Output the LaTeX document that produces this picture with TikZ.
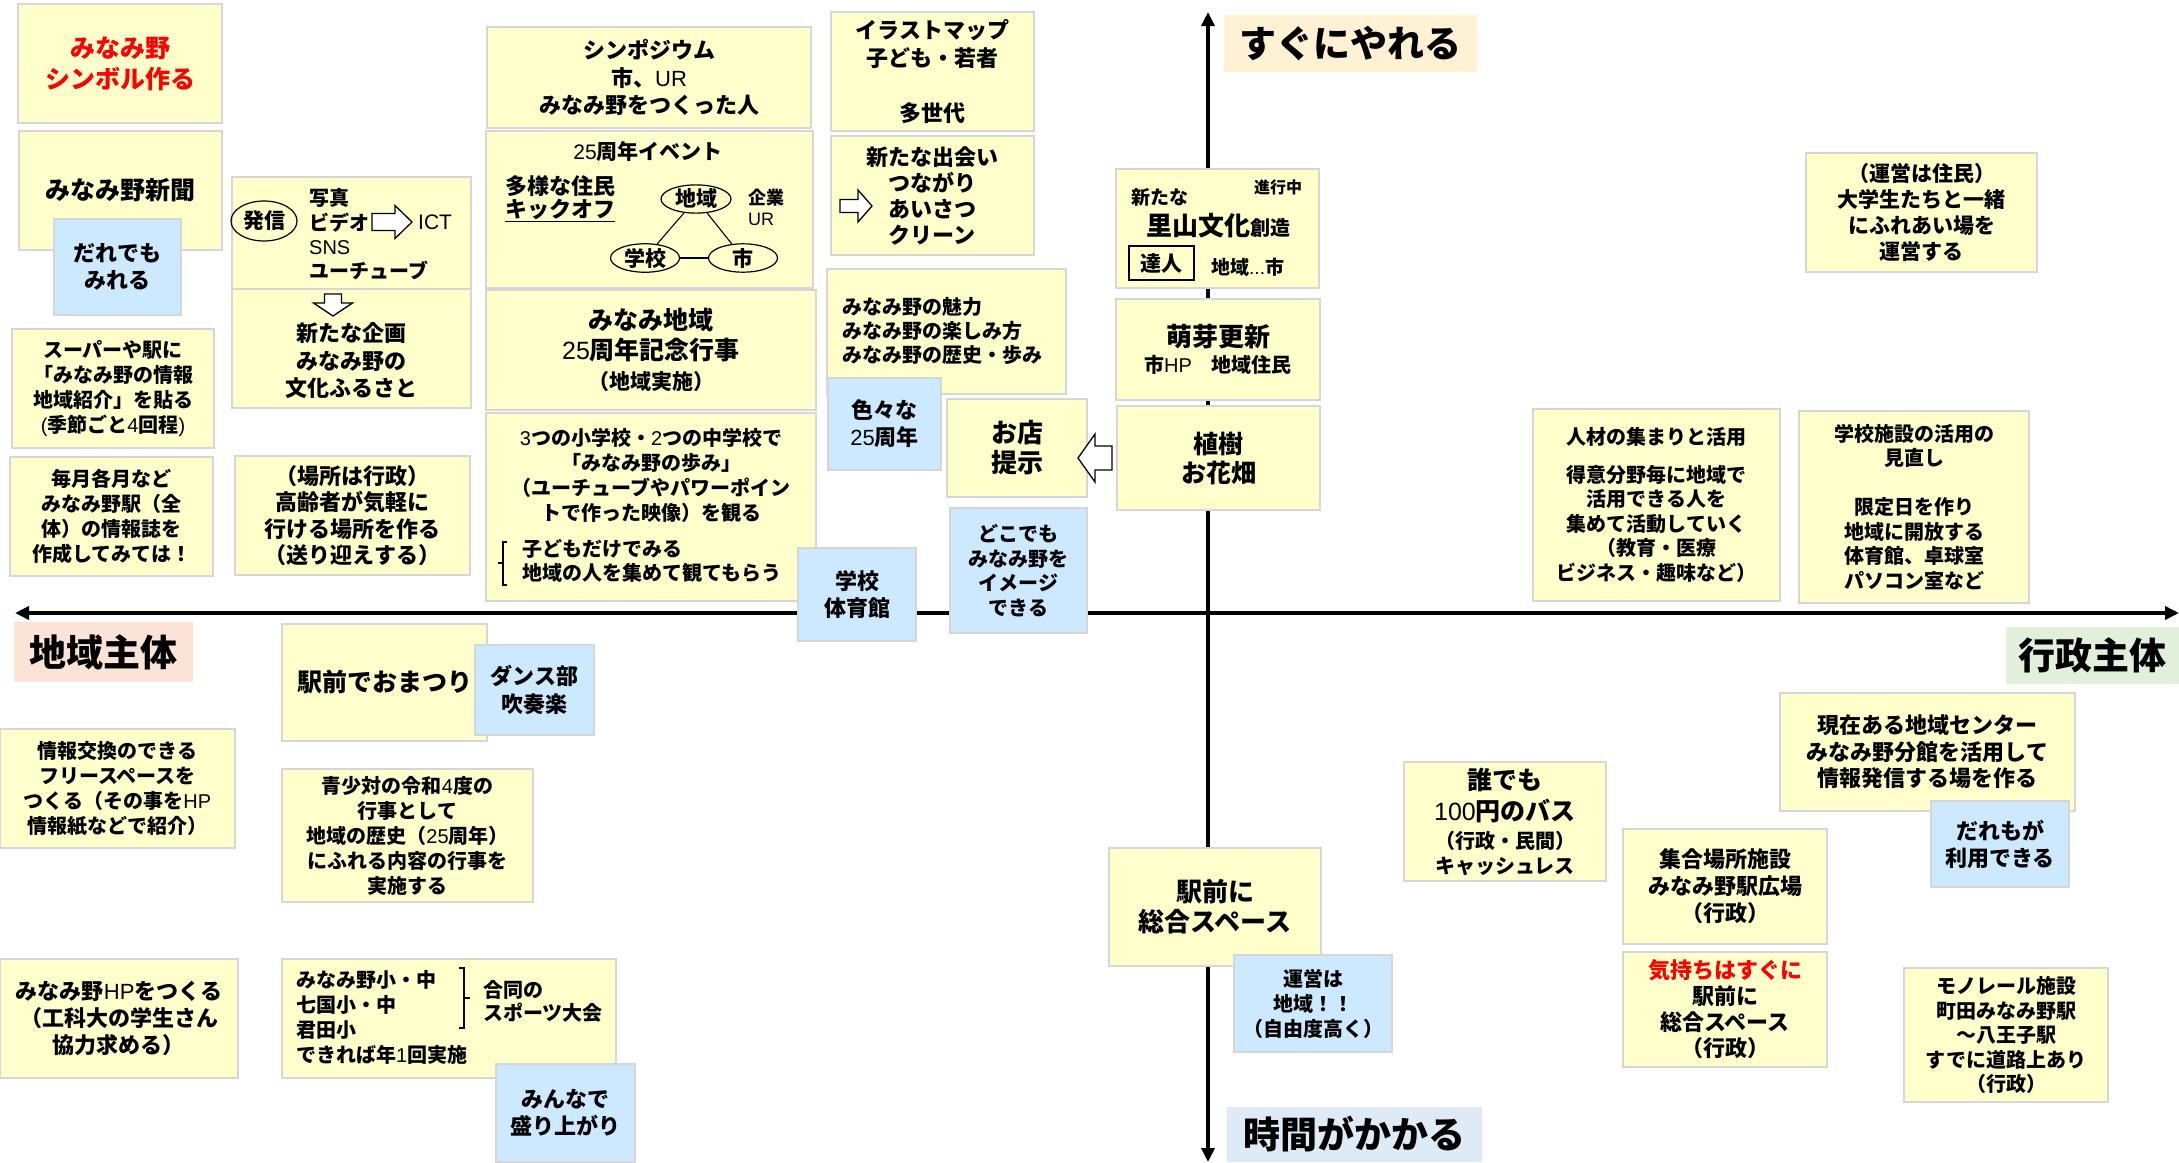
\documentclass[tikz,border=0pt]{standalone}
\usepackage{fontspec}
\setmainfont{Noto Sans CJK JP}
\newfontfamily\latfont{Liberation Sans}
\usetikzlibrary{arrows.meta,shapes.geometric}
\definecolor{yfill}{HTML}{FFFFCC}
\definecolor{bfill}{HTML}{CCE9FF}
\definecolor{bordc}{HTML}{D6D6D6}
\definecolor{sugucol}{HTML}{FFF1D3}
\definecolor{chikicol}{HTML}{FBE3D8}
\definecolor{gyocol}{HTML}{E2EFDA}
\definecolor{jikancol}{HTML}{DEEAF6}
\definecolor{redtxt}{HTML}{FF0000}
\newcommand\fz[2]{\fontsize{#1}{#2}\selectfont\bfseries}
\newcommand\latn[1]{{\latfont\mdseries #1}}
\newcommand\boxat[7]{\node[#1, minimum width={(#5-#3)*1pt}, minimum height={(#6-#4)*1pt}] (#2) at ({(#3+#5)/2},{(#4+#6)/2}) {#7};}
\begin{document}
\begin{tikzpicture}[x=1pt,y=-1pt,
  ybox/.style={draw=bordc, fill=yfill, line width=1.3pt, inner sep=0pt, align=center},
  bbox/.style={ybox, fill=bfill},
  lbl/.style={inner sep=0pt, font=\fz{37}{40}},
  txt/.style={inner sep=0pt, align=center},
  axis/.style={line width=4pt, {Triangle[length=14pt,width=13pt]}-{Triangle[length=14pt,width=13pt]}},
  harrow/.style={draw=black, fill=white, line width=1.3pt, line join=miter},
  oval/.style={ellipse, draw=black, line width=1.2pt, inner sep=0pt, font=\fz{21}{24}},
  thinline/.style={line width=1.1pt}]
\fill[white] (0,0) rectangle (2179,1162);
\useasboundingbox (0,0) rectangle (2179,1162);
% axes
\coordinate (hL) at (15,613);
\coordinate (hR) at (2179,613);
\coordinate (vT) at (1208,12);
\coordinate (vB) at (1208,1162);
\draw[axis] (hL) -- (hR);
\draw[axis] (vT) -- (vB);
% yellow boxes
\boxat{ybox,font=\fz{25}{31},text=redtxt}{symbol}{18}{4}{222}{123}{みなみ野\\シンボル作る}
\boxat{ybox,font=\fz{25}{30}}{shinbun}{19}{131}{222}{250}{みなみ野新聞}
\boxat{ybox}{hasshin}{232}{177}{471}{291}{}
\boxat{ybox}{kikaku}{232}{289}{471}{408}{}
\boxat{ybox,font=\fz{20}{25}}{super}{12}{329}{214}{448}{スーパーや駅に\\「みなみ野の情報\\地域紹介」を貼る\\\latn{(}季節ごと\latn{4}回程\latn{)}}
\boxat{ybox,font=\fz{20}{25}}{maitsuki}{10}{457}{213}{576}{毎月各月など\\みなみ野駅（全\\体）の情報誌を\\作成してみては！}
\boxat{ybox,font=\fz{22}{26.5}}{basho}{235}{456}{470}{575}{（場所は行政）\\高齢者が気軽に\\行ける場所を作る\\（送り迎えする）}
\boxat{ybox,font=\fz{22}{27.5}}{sympo}{487}{27}{811}{128}{シンポジウム\\市、\latn{UR}\\みなみ野をつくった人}
\boxat{ybox}{event}{486}{131}{813}{288}{}
\boxat{ybox,font=\fz{25}{30}}{kinen}{486}{290}{816}{410}{みなみ地域\\\latn{25}周年記念行事\\{\fz{21}{28}（地域実施）}}
\boxat{ybox}{three}{486}{413}{816}{601}{}
\boxat{ybox,font=\fz{22}{27.5}}{illust}{831}{12}{1034}{131}{イラストマップ\\子ども・若者\\[27.5pt]多世代}
\boxat{ybox}{deai}{831}{136}{1034}{255}{}
\boxat{ybox}{miryoku}{827}{269}{1066}{394}{}
\boxat{ybox,font=\fz{26}{30}}{omise}{947}{399}{1087}{497}{お店\\提示}
\boxat{ybox}{satoyama}{1116}{169}{1319}{288}{}
\boxat{ybox,font=\fz{20}{26}}{houga}{1116}{299}{1320}{400}{{\fz{26}{30}萌芽更新}\\市\latn{HP}\hspace{20pt}地域住民}
\boxat{ybox,font=\fz{25}{29}}{shokuju}{1117}{406}{1320}{510}{植樹\\お花畑}
\boxat{ybox,font=\fz{21}{26}}{uneij}{1806}{153}{2037}{272}{（運営は住民）\\大学生たちと一緒\\にふれあい場を\\運営する}
\boxat{ybox,font=\fz{20}{24.5}}{jinzai}{1533}{409}{1780}{601}{人材の集まりと活用\\[13pt]得意分野毎に地域で\\活用できる人を\\集めて活動していく\\（教育・医療\\ビジネス・趣味など）}
\boxat{ybox,font=\fz{20}{24.5}}{shisetsu}{1799}{411}{2029}{603}{学校施設の活用の\\見直し\\[24.5pt]限定日を作り\\地域に開放する\\体育館、卓球室\\パソコン室など}
\boxat{ybox,font=\fz{25}{30}}{omatsuri}{282}{624}{487}{741}{駅前でおまつり}
\boxat{ybox,font=\fz{20}{25}}{jouhou}{0}{729}{235}{848}{情報交換のできる\\フリースペースを\\つくる（その事を\latn{HP}\\情報紙などで紹介）}
\boxat{ybox,font=\fz{20}{25}}{seisho}{282}{769}{533}{902}{青少対の令和\latn{4}度の\\行事として\\地域の歴史（\latn{25}周年）\\にふれる内容の行事を\\実施する}
\boxat{ybox,font=\fz{22}{27}}{hp}{0}{959}{238}{1078}{みなみ野\latn{HP}をつくる\\（工科大の学生さん\\協力求める）}
\boxat{ybox}{sports}{282}{959}{616}{1078}{}
\boxat{ybox,font=\fz{26}{30}}{ekimae}{1109}{848}{1321}{966}{駅前に\\総合スペース}
\boxat{ybox,font=\fz{20}{25}}{bus}{1404}{762}{1606}{881}{{\fz{25}{30}誰でも}\\[6pt]{\fz{25}{30}\latn{100}円のバス}\\[3pt]（行政・民間）\\キャッシュレス}
\boxat{ybox,font=\fz{22}{26.5}}{center}{1780}{693}{2075}{811}{現在ある地域センター\\みなみ野分館を活用して\\情報発信する場を作る}
\boxat{ybox,font=\fz{22}{27}}{shugo}{1623}{829}{1827}{944}{集合場所施設\\みなみ野駅広場\\（行政）}
\boxat{ybox,font=\fz{22}{26}}{kimochi}{1623}{952}{1827}{1067}{\textcolor{redtxt}{気持ちはすぐに}\\駅前に\\総合スペース\\（行政）}
\boxat{ybox,font=\fz{20}{24.5}}{mono}{1904}{968}{2108}{1102}{モノレール施設\\町田みなみ野駅\\～八王子駅\\すでに道路上あり\\（行政）}
% contents of hasshin box
\node[oval, minimum width=66pt, minimum height=40pt] (hasshinov) at (264,221) {発信};
\node[txt, anchor=west, align=left, font=\fz{20}{24.3}] (media) at (309,234.5) {写真\\ビデオ\\\latn{SNS}\\ユーチューブ};
\draw[harrow] (372,213.5) -- (395,213.5) -- (395,205.5) -- (412,222) -- (395,238.5) -- (395,230.5) -- (372,230.5) -- cycle;
\node[txt, anchor=west, font=\fz{21}{24}] (ict) at (418,222) {\latn{ICT}};
% contents of kikaku box
\draw[harrow] (324.5,294) -- (341.5,294) -- (341.5,303) -- (352.5,303) -- (333,316) -- (313.5,303) -- (324.5,303) -- cycle;
\node[txt, font=\fz{22}{27.5}] (kikakut) at (351,361) {新たな企画\\みなみ野の\\文化ふるさと};
% contents of event box
\node[txt, font=\fz{21}{24}] (ev25) at (648,152) {\latn{25}周年イベント};
\node[txt, anchor=west, align=left, font=\fz{22}{23}] (tayou) at (505,198.5) {多様な住民\\\underline{キックオフ}};
\node[oval, minimum width=70pt, minimum height=28pt] (ovchiki) at (696,199) {地域};
\node[oval, minimum width=69pt, minimum height=27pt] (ovgakko) at (645,258) {学校};
\node[oval, minimum width=69pt, minimum height=27pt] (ovshi) at (743,258) {市};
\draw[thinline] (ovchiki) -- (ovgakko);
\draw[thinline] (ovchiki) -- (ovshi);
\draw[thinline] (ovgakko) -- (ovshi);
\node[txt, anchor=west, align=left, font=\fz{18}{21}] (kigyo) at (748,207.5) {企業\\\latn{UR}};
% contents of three box
\node[txt, font=\fz{20}{25}] (threet) at (651,475.5) {\latn{3}つの小学校・\latn{2}つの中学校で\\「みなみ野の歩み」\\（ユーチューブやパワーポイン\\トで作った映像）を観る};
\node[txt, anchor=west, align=left, font=\fz{20}{24}] (kodomo) at (522,561) {子どもだけでみる\\地域の人を集めて観てもらう};
\draw[thinline] (507,542) -- (503,542) -- (503,585) -- (507,585) (503,563) -- (498,563);
% contents of deai box
\draw[harrow] (840,199.5) -- (858,199.5) -- (858,190) -- (872,206) -- (858,222) -- (858,212.5) -- (840,212.5) -- cycle;
\node[txt, font=\fz{22}{26}] (deait) at (932,196) {新たな出会い\\つながり\\あいさつ\\クリーン};
% contents of miryoku box
\node[txt, anchor=west, align=left, font=\fz{20}{24}] (miryokut) at (842,331) {みなみ野の魅力\\みなみ野の楽しみ方\\みなみ野の歴史・歩み};
% contents of satoyama box
\node[txt, anchor=west, font=\fz{19}{22}] (aratana) at (1131,197) {新たな};
\node[txt, anchor=west, font=\fz{16}{19}] (shinko) at (1254,187) {進行中};
\node[txt, anchor=west, font=\fz{26}{30}] (satot) at (1146,226) {里山文化{\fz{20}{24}創造}};
\node[draw=black, line width=1.5pt, inner sep=0pt, minimum width=65pt, minimum height=34pt, font=\fz{21}{24}] (tatsujin) at (1161.5,263) {達人};
\node[txt, anchor=west, font=\fz{19}{22}] (chikishi) at (1211,267) {地域\latn{...}市};
% arrow from shokuju to omise
\draw[harrow] (1112,446) -- (1095,446) -- (1095,434) -- (1078,458) -- (1095,482) -- (1095,470) -- (1112,470) -- cycle;
% contents of sports box
\node[txt, anchor=west, align=left, font=\fz{20}{25}] (schools) at (296,1017.5) {みなみ野小・中\\七国小・中\\君田小\\できれば年\latn{1}回実施};
\draw[thinline] (459,968) -- (464,968) -- (464,1028) -- (459,1028) (464,998) -- (470,998);
\node[txt, anchor=west, align=left, font=\fz{20}{23}] (godo) at (483,1001.5) {合同の\\スポーツ大会};
% blue boxes
\boxat{bbox,font=\fz{22}{27}}{daredemo}{54}{219}{181}{315}{だれでも\\みれる}
\boxat{bbox,font=\fz{22}{27}}{iroiro}{828}{378}{941}{470}{色々な\\\latn{25}周年}
\boxat{bbox,font=\fz{20}{24.7}}{dokodemo}{950}{508}{1087}{633}{どこでも\\みなみ野を\\イメージ\\できる}
\boxat{bbox,font=\fz{22}{27}}{taiikukan}{798}{548}{916}{641}{学校\\体育館}
\boxat{bbox,font=\fz{22}{28}}{dance}{475}{645}{594}{735}{ダンス部\\吹奏楽}
\boxat{bbox,font=\fz{22}{27}}{minnade}{496}{1064}{635}{1162}{みんなで\\盛り上がり}
\boxat{bbox,font=\fz{20}{25}}{uneic}{1234}{955}{1392}{1052}{運営は\\地域！！\\（自由度高く）}
\boxat{bbox,font=\fz{22}{27}}{daremo}{1931}{801}{2069}{887}{だれもが\\利用できる}
% axis labels
\boxat{lbl,fill=sugucol}{sugu}{1224}{15}{1477}{72}{すぐにやれる}
\boxat{lbl,fill=chikicol}{chiki}{14}{622}{193}{682}{地域主体}
\boxat{lbl,fill=gyocol}{gyosei}{2006}{627}{2179}{684}{行政主体}
\boxat{lbl,fill=jikancol}{jikan}{1227}{1107}{1482}{1162}{時間がかかる}
\end{tikzpicture}
\end{document}
